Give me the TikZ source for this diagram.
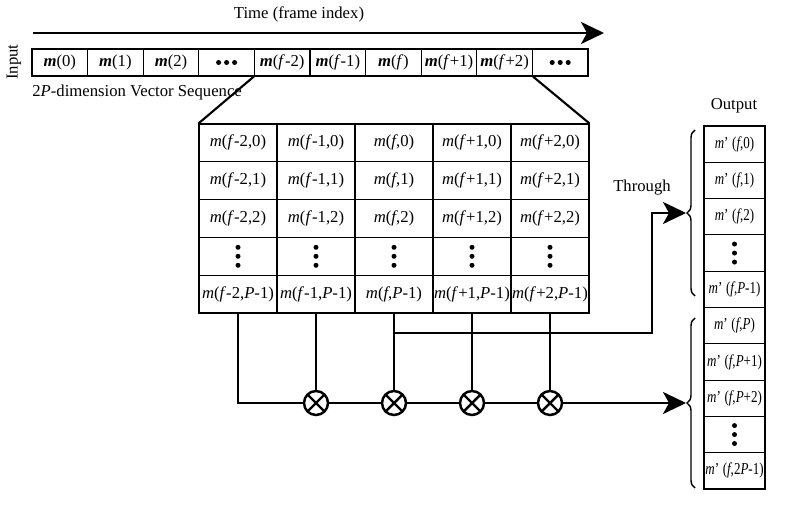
\documentclass[tikz,border=0pt]{standalone}
\usepackage{fontspec}
\setmainfont{Liberation Serif}
\newfontfamily\narrowfont{Liberation Serif}[FakeStretch=0.78]
\usetikzlibrary{arrows.meta,decorations.pathreplacing}

\begin{document}
\begin{tikzpicture}[x=0.02cm,y=-0.02cm,font=\fontsize{9.5}{11.4}\selectfont,
		cell/.style={shape=rectangle,draw=black,line width=0.6pt,inner sep=0pt},
		incell/.style={cell,minimum width=1.112cm,minimum height=0.54cm},
		mcell/.style={cell,minimum width=1.56cm,minimum height=0.756cm},
		ocell/.style={cell,minimum width=1.22cm,minimum height=0.726cm,font=\narrowfont\fontsize{9.5}{11.4}\selectfont},
		conn/.style={line width=1.5pt},
		arr/.style={-{Stealth[length=0.46cm,width=0.44cm,inset=0.12cm]}},
		brc/.style={decorate,decoration={brace,amplitude=0.16cm},line width=0.8pt},
		mul/.style={shape=circle,draw=black,line width=1.4pt,minimum size=0.48cm,inner sep=0pt,fill=white,
			path picture={\draw[line width=1.4pt] (path picture bounding box.north west) -- (path picture bounding box.south east)
				(path picture bounding box.north east) -- (path picture bounding box.south west);}}]

		\useasboundingbox (0,0) rectangle (800,506);

		\coordinate (T1) at (33,33);
		\coordinate (T2) at (604,33);
		\coordinate (J) at (394,333);
		\coordinate (K) at (652,333);
		\coordinate (B1) at (686,213);
		\coordinate (B2) at (686,403);
		\coordinate (B1a) at (695,296);
		\coordinate (B1b) at (695,130);
		\coordinate (B2a) at (695,488);
		\coordinate (B2b) at (695,318);

		\node (time) at (299,14) {Time (frame index)};
		\node[rotate=90] (inp) at (14,62) {Input};
		\node[anchor=west,inner sep=0pt] (seq) at (32,92) {2\textit{P}-dimension Vector Sequence};
		\node (out) at (734,106) {Output};
		\node (thr) at (642,188) {Through};

		\foreach \t [count=\i from 0] in {{\textbf{\textit{m}}(0)},{\textbf{\textit{m}}(1)},{\textbf{\textit{m}}(2)},{},
			{\textbf{\textit{m}}(\textit{f}-2)},{\textbf{\textit{m}}(\textit{f}-1)},{\textbf{\textit{m}}(\textit{f})},
			{\textbf{\textit{m}}(\textit{f}+1)},{\textbf{\textit{m}}(\textit{f}+2)},{}}
			\node[incell] (i\i) at (59.8+55.6*\i,62.5) {\t};

		\foreach \cl [count=\j] in {{\textit{f}-2},{\textit{f}-1},{\textit{f}},{\textit{f}+1},{\textit{f}+2}} {
			\foreach \rw/\k in {0/1,1/2,2/3,{\textit{P}-1}/5}
				\node[mcell] (c\j\k) at (160+78*\j,105.1+37.8*\k) {\textit{m}(\cl,\rw)};
			\node[mcell] (c\j4) at (160+78*\j,256.3) {};
		}

		\foreach \rw/\k in {0/0,1/1,2/2,{\textit{P}-1}/4,{\textit{P}}/5,{\textit{P}+1}/6,{\textit{P}+2}/7,{2\textit{P}-1}/9}
			\node[ocell] (o\k) at (734.5,144.15+36.3*\k) {\textit{m}’\hspace{0.22em}(\textit{f},\rw)};
		\node[ocell] (o3) at (734.5,253.05) {};
		\node[ocell] (o8) at (734.5,434.55) {};

		\foreach \p in {i3,i9}
			\foreach \d in {-8,0,8}
				\fill ([xshift=\d*0.02cm]\p) circle (0.05cm);
		\foreach \p in {c14,c24,c34,c44,c54,o3,o8}
			\foreach \d in {-9,0,9}
				\fill ([yshift=\d*0.02cm]\p) circle (0.05cm);

		\node[mul] (x1) at (316,403) {};
		\node[mul] (x2) at (394,403) {};
		\node[mul] (x3) at (472,403) {};
		\node[mul] (x4) at (550,403) {};

		\draw[conn,arr] (T1) -- (T2);
		\draw[line width=1.2pt] (i4.south west) -- (c11.north west);
		\draw[line width=1.2pt] (i8.south east) -- (c51.north east);

		\draw[conn] (c15.south) |- (x1);
		\draw[conn] (c25.south) -- (x1);
		\draw[conn] (c35.south) -- (x2);
		\draw[conn] (c45.south) -- (x3);
		\draw[conn] (c55.south) -- (x4);
		\draw[conn] (x1) -- (x2);
		\draw[conn] (x2) -- (x3);
		\draw[conn] (x3) -- (x4);
		\draw[conn,arr] (x4) -- (B2);
		\draw[conn,arr] (J) -- (K) |- (B1);

		\draw[brc] (B1a) -- (B1b);
		\draw[brc] (B2a) -- (B2b);
		\end{tikzpicture}
\end{document}
